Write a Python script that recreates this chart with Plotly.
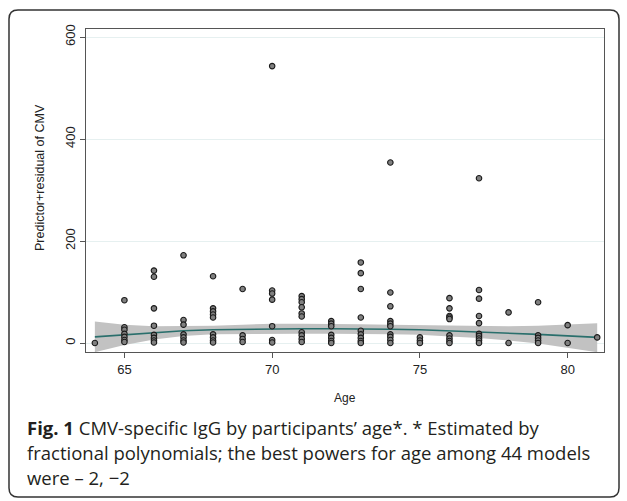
import plotly.graph_objects as go

# ---- data ----
ages = [64, 65, 66, 67, 68, 69, 70, 71, 72, 73, 74, 75, 76, 77, 78, 79, 80, 81]
igg_by_age = {
    64: [0],
    65: [84, 31, 26, 18, 12, 6, 2],
    66: [142, 130, 68, 34, 16, 10, 5, 1],
    67: [172, 45, 36, 17, 11, 5, 1],
    68: [131, 68, 62, 56, 50, 17, 11, 5, 1],
    69: [106, 15, 8, 2],
    70: [543, 103, 97, 85, 33, 6, 1],
    71: [92, 86, 80, 70, 58, 52, 21, 15, 8, 2],
    72: [43, 38, 33, 16, 10, 4, 0],
    73: [158, 137, 106, 50, 24, 17, 10, 4, 0],
    74: [354, 99, 72, 43, 38, 33, 17, 12, 6, 0],
    75: [11, 5, 0],
    76: [88, 68, 53, 50, 47, 15, 9, 4, 0],
    77: [323, 104, 87, 53, 39, 18, 14, 9, 5, 0],
    78: [60, 0],
    79: [80, 15, 10, 5, 0],
    80: [35, 0],
    81: [11],
}
fit = [12, 16, 21, 24, 26, 27, 28, 28, 28, 28, 27, 26, 24, 22, 20, 17, 14, 11]
ci_upper = [42, 36, 33, 33, 34, 36, 38, 38, 38, 37, 36, 35, 34, 33, 33, 34, 36, 39]
ci_lower = [-18, -4, 7, 14, 17, 18, 18, 18, 18, 18, 17, 16, 13, 10, 5, -1, -9, -18]
y_ticks = [0, 200, 400, 600]
x_ticks = [65, 70, 75, 80]

px_ages = [a for a in ages for _ in igg_by_age[a]]
px_vals = [v for a in ages for v in igg_by_age[a]]

W, H = 627, 501
L, R, T, B = 86, 604, 29, 352

def px(x):
    return (x - L) / (R - L)

def py(y):
    return (B - y) / (B - T)

fig = go.Figure()
fig.add_trace(go.Scatter(x=ages + ages[::-1], y=ci_upper + ci_lower[::-1],
                         fill="toself", fillcolor="#c2c2c2", line=dict(width=0),
                         mode="lines", hoverinfo="skip", showlegend=False))
fig.add_trace(go.Scatter(x=ages, y=fit, mode="lines",
                         line=dict(color="#2a6f6c", width=1.6), showlegend=False))
fig.add_trace(go.Scatter(x=px_ages, y=px_vals, mode="markers",
                         marker=dict(size=5.5, color="#808080",
                                     line=dict(color="#1a1a1a", width=1.1)),
                         showlegend=False))

axis_font = dict(family="Liberation Sans, Arial, sans-serif", size=13, color="#222")
fig.update_xaxes(range=[63.7, 81.23], tickvals=x_ticks, ticks="outside", ticklen=5,
                 tickcolor="#555", showgrid=False, zeroline=False, showline=True,
                 linecolor="#555", linewidth=1, mirror=True, tickfont=axis_font)
fig.update_yaxes(range=[-17.6, 615.7], tickvals=y_ticks, ticks="outside", ticklen=5,
                 tickcolor="#555", tickangle=-90, showgrid=True, gridcolor="#e6f0f0",
                 gridwidth=1, zeroline=False, showline=True, linecolor="#555",
                 linewidth=1, mirror=True, tickfont=axis_font)

cap_font = dict(family="Open Sans, Noto Sans, sans-serif", size=18.5, color="#231f20")
common = dict(xref="paper", yref="paper", showarrow=False, yanchor="middle")
annotations = [
    dict(text="Predictor+residual of CMV", x=px(40), y=py(178), xanchor="center",
         textangle=-90, font=dict(family="Liberation Sans, Arial, sans-serif",
                                  size=12.5, color="#222"), **common),
    dict(text="Age", x=px(345), y=py(398), xanchor="center",
         font=dict(family="Liberation Sans, Arial, sans-serif", size=12, color="#222"),
         **common),
    dict(text="<b>Fig. 1</b> CMV-specific IgG by participants’ age*. * Estimated by",
         x=px(25), y=py(427), xanchor="left", font=cap_font, **common),
    dict(text="fractional polynomials; the best powers for age among 44 models",
         x=px(25), y=py(452), xanchor="left", font=cap_font, **common),
    dict(text="were – 2, −2",
         x=px(25), y=py(477), xanchor="left", font=cap_font, **common),
]

# rounded outer frame
fl, ft, fr, fb, r = 9, 10, 619, 497, 9
def P(x, y):
    return f"{px(x):.5f},{py(y):.5f}"
path = (f"M {P(fl + r, ft)} L {P(fr - r, ft)} Q {P(fr, ft)} {P(fr, ft + r)} "
        f"L {P(fr, fb - r)} Q {P(fr, fb)} {P(fr - r, fb)} L {P(fl + r, fb)} "
        f"Q {P(fl, fb)} {P(fl, fb - r)} L {P(fl, ft + r)} Q {P(fl, ft)} {P(fl + r, ft)} Z")
fig.add_shape(type="path", path=path, xref="paper", yref="paper",
              line=dict(color="#333", width=1.5), layer="below")

fig.update_layout(width=W, height=H, margin=dict(l=L, r=W - R, t=T, b=H - B),
                  paper_bgcolor="white", plot_bgcolor="white",
                  annotations=annotations, showlegend=False)
fig.write_html("out.html", config={"displayModeBar": False},
               post_script="document.body.style.margin='0';document.body.style.overflow='hidden';")
